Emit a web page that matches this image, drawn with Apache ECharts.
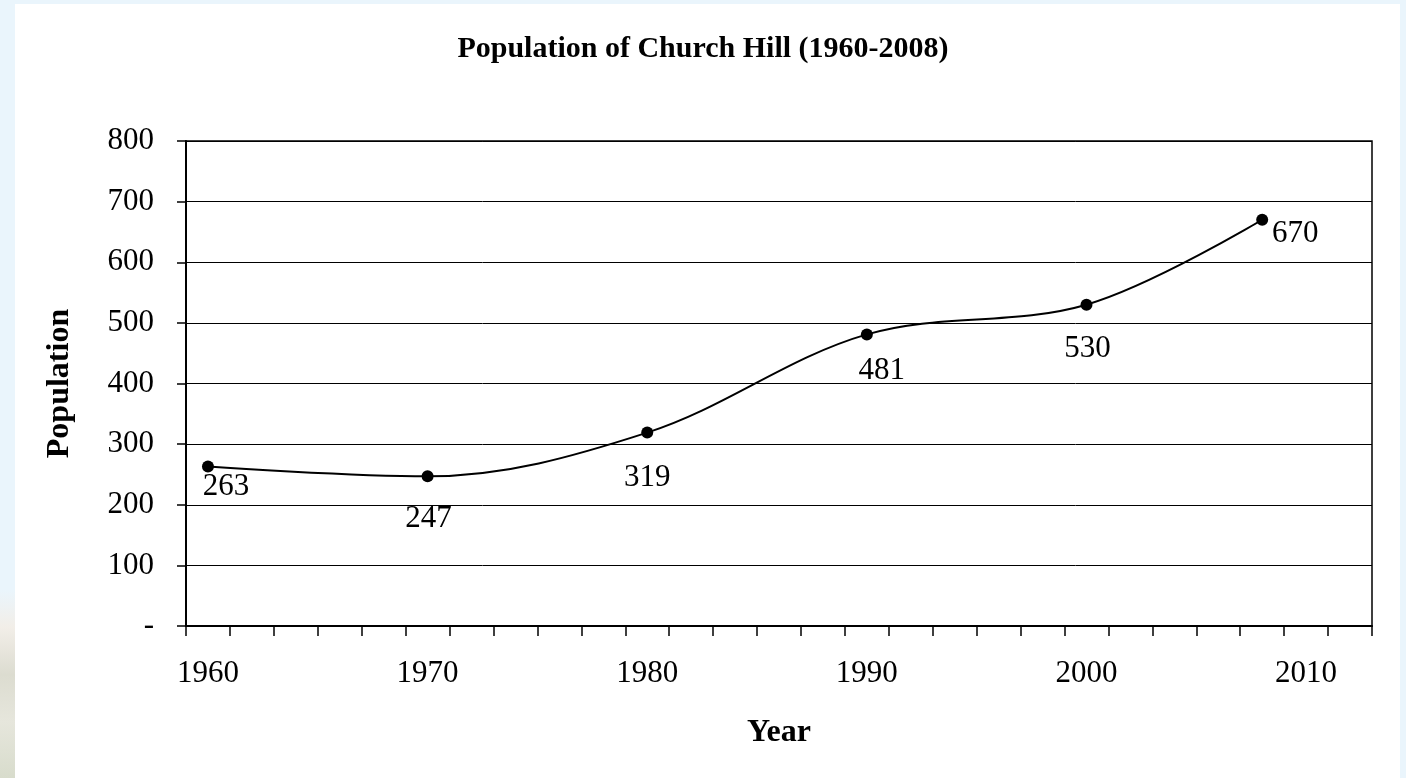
<!DOCTYPE html>
<html>
<head>
<meta charset="utf-8">
<script src="https://cdn.jsdelivr.net/npm/echarts@6/dist/echarts.min.js"></script>
<style>
  html, body { margin: 0; padding: 0; width: 1406px; height: 778px; overflow: hidden; background: #eaf5fc; }
  #strip { position: absolute; left: 0; top: 590px; width: 15px; height: 188px;
           background: linear-gradient(180deg, #eaf5fc 0%, #f2eee8 20%, #dcdcd0 45%, #e6e6dc 70%, #d8dccc 100%); }
  #paper { position: absolute; left: 15px; top: 4px; width: 1385px; height: 774px; background: #ffffff; }
  #chart { position: absolute; left: 0; top: 0; width: 1406px; height: 778px; }
</style>
</head>
<body>
<div id="strip"></div>
<div id="paper"></div>
<div id="chart"></div>
<script>
// ---- data ----
const years = [1960, 1970, 1980, 1990, 2000, 2008];
const population = [263, 247, 319, 481, 530, 670];
const xLabelValues = [1960, 1970, 1980, 1990, 2000, 2010];
const xTickValues = [1959, 1961, 1963, 1965, 1967, 1969, 1971, 1973, 1975, 1977, 1979, 1981, 1983, 1985,
                     1987, 1989, 1991, 1993, 1995, 1997, 1999, 2001, 2003, 2005, 2007, 2009, 2011, 2013];
const titleText = 'Population of Church Hill (1960-2008)';
const xName = 'Year';
const yName = 'Population';

// ---- styling ----
const FONT = "'Liberation Serif', 'Times New Roman', serif";
const labelOffsets = [[18, 20], [1, 43], [0, 45], [15, 36], [1, 44], [33, 14]];

const seriesData = years.map((y, i) => ({
  value: [y, population[i]],
  label: { offset: labelOffsets[i] }
}));

const chart = echarts.init(document.getElementById('chart'), null, { renderer: 'canvas' });
chart.setOption({
  backgroundColor: 'transparent',
  animation: false,
  title: {
    text: titleText,
    left: 'center',
    top: 29,
    textStyle: { fontFamily: FONT, fontWeight: 'bold', fontSize: 30, color: '#000' }
  },
  grid: {
    left: 186, right: 34, top: 141, bottom: 152,
    show: true, borderColor: '#000', borderWidth: 1.5, backgroundColor: 'transparent'
  },
  xAxis: {
    type: 'value',
    min: 1959, max: 2013, interval: 2,
    name: xName,
    nameLocation: 'middle',
    nameGap: 91,
    nameTextStyle: { fontFamily: FONT, fontWeight: 'bold', fontSize: 32, color: '#000' },
    axisLine: { show: true, onZero: false, lineStyle: { color: '#000', width: 2 } },
    axisTick: { show: true, inside: false, length: 10, customValues: xTickValues, lineStyle: { color: '#000', width: 1.5 } },
    axisLabel: { show: true, customValues: xLabelValues, margin: 32, fontFamily: FONT, fontSize: 31, color: '#000',
                 formatter: v => String(v) },
    splitLine: { show: false }
  },
  yAxis: {
    type: 'value',
    min: 0, max: 800, interval: 100,
    name: yName,
    nameLocation: 'middle',
    nameGap: 110,
    nameTextStyle: { fontFamily: FONT, fontWeight: 'bold', fontSize: 32, color: '#000' },
    axisLine: { show: true, lineStyle: { color: '#000', width: 2 } },
    axisTick: { show: true, inside: false, length: 9, lineStyle: { color: '#000', width: 1.5 } },
    axisLabel: { show: true, margin: 32, fontFamily: FONT, fontSize: 31, color: '#000',
                 formatter: v => (v === 0 ? '-' : String(v)) },
    splitLine: { show: true, lineStyle: { color: '#000', width: 1 } }
  },
  series: [{
    type: 'line',
    data: seriesData,
    smooth: 0.35,
    symbol: 'circle',
    symbolSize: 12,
    itemStyle: { color: '#000' },
    lineStyle: { color: '#000', width: 2 },
    label: {
      show: true,
      position: 'inside',
      fontFamily: FONT,
      fontSize: 31,
      color: '#000',
      formatter: p => String(p.value[1])
    }
  }]
});
</script>
</body>
</html>
